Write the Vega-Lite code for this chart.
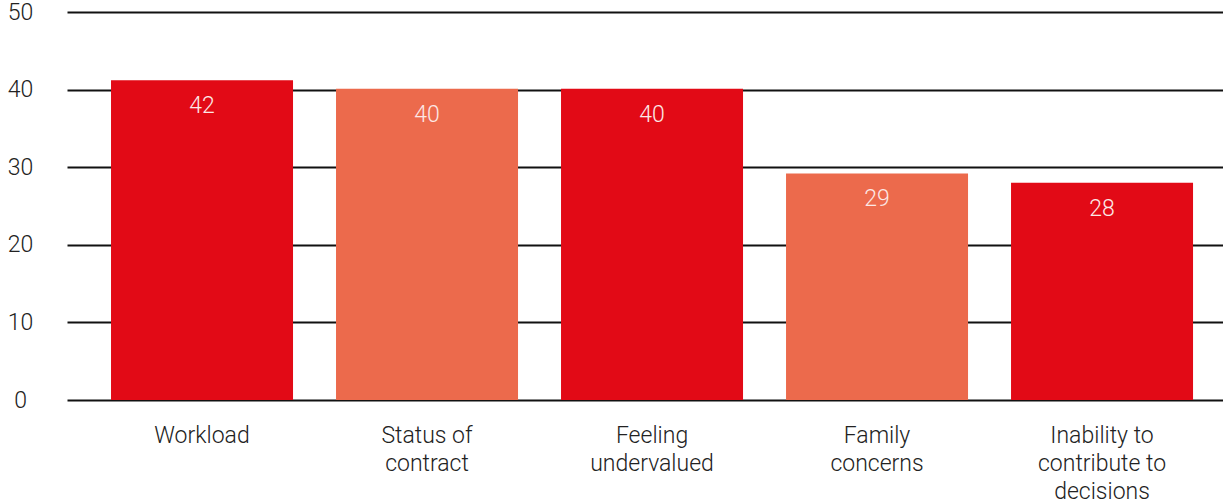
{
  "$schema": "https://vega.github.io/schema/vega-lite/v6.json",
  "width": 1156,
  "height": 388,
  "autosize": {"type": "none"},
  "padding": {"left": 67, "top": 12, "right": 0, "bottom": 104},
  "background": "white",
  "config": {"view": {"stroke": null}, "font": "Roboto"},
  "data": {
    "values": [
      {"category": "Workload", "value": 41.2, "label": "42", "shade": "dark"},
      {"category": "Status of contract", "value": 40.1, "label": "40", "shade": "light"},
      {"category": "Feeling undervalued", "value": 40.1, "label": "40", "shade": "dark"},
      {"category": "Family concerns", "value": 29.2, "label": "29", "shade": "light"},
      {"category": "Inability to contribute to decisions", "value": 28.0, "label": "28", "shade": "dark"}
    ]
  },
  "encoding": {
    "x": {
      "field": "category",
      "type": "nominal",
      "sort": null,
      "scale": {"paddingInner": 0.1911, "paddingOuter": 0.1644, "align": 0.595},
      "axis": {
        "title": null,
        "domain": false,
        "ticks": false,
        "labelAngle": 0,
        "labelPadding": 24,
        "labelBaseline": "top",
        "labelFontSize": 23,
        "labelFontWeight": 300,
        "labelLineHeight": 28,
        "labelColor": "#222222",
        "labelLimit": 300,
        "labelExpr": "datum.value == 'Status of contract' ? ['Status of', 'contract'] : datum.value == 'Feeling undervalued' ? ['Feeling', 'undervalued'] : datum.value == 'Family concerns' ? ['Family', 'concerns'] : datum.value == 'Inability to contribute to decisions' ? ['Inability to', 'contribute to', 'decisions'] : datum.value"
      }
    },
    "y": {
      "field": "value",
      "type": "quantitative",
      "scale": {"domain": [0, 50], "nice": false},
      "axis": {
        "title": null,
        "values": [0, 10, 20, 30, 40, 50],
        "domain": false,
        "ticks": false,
        "grid": true,
        "gridColor": "#111111",
        "gridWidth": 2,
        "labelAlign": "center",
        "labelBaseline": "middle",
        "labelPadding": 47,
        "labelFontSize": 23,
        "labelFontWeight": 300,
        "labelColor": "#222222"
      }
    }
  },
  "layer": [
    {
      "mark": {"type": "bar"},
      "encoding": {
        "color": {
          "field": "shade",
          "type": "nominal",
          "scale": {"domain": ["dark", "light"], "range": ["#E20A16", "#EC6A4C"]},
          "legend": null
        }
      }
    },
    {
      "mark": {"type": "text", "baseline": "middle", "dy": 26, "fontSize": 23, "fontWeight": 300, "color": "#FCE8E6"},
      "encoding": {"text": {"field": "label", "type": "nominal"}}
    }
  ]
}
